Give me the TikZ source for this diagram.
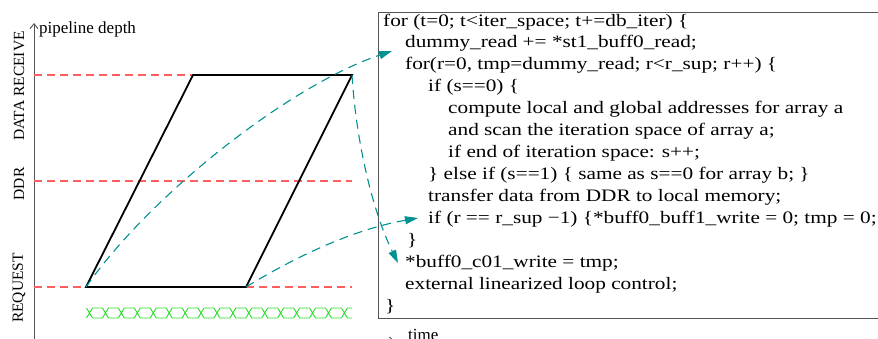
\documentclass[tikz,border=0pt]{standalone}
\usepackage{fontspec}
\setmainfont{Liberation Serif}
\newfontfamily\codefont[FakeStretch=1.215]{Liberation Serif}
\usetikzlibrary{arrows.meta}
\definecolor{guidered}{RGB}{255,95,95}
\definecolor{flowteal}{RGB}{0,145,145}
\definecolor{busgreen}{RGB}{40,220,40}
\definecolor{boxgray}{RGB}{85,85,85}
\begin{document}
\begin{tikzpicture}[x=1pt,y=-1pt,
  guide/.style={draw=guidered, line width=1.1pt, dash pattern=on 8pt off 5pt},
  para/.style={draw=black, line width=1.8pt, line join=miter},
  flow/.style={draw=flowteal, line width=1.1pt, dash pattern=on 9pt off 6pt, -{Triangle[length=13pt,width=8pt]}},
  bus/.style={draw=busgreen, line width=0.9pt},
  axisline/.style={draw=boxgray, line width=0.9pt, -{Straight Barb[length=5pt,width=8pt]}},
  codebox/.style={draw=boxgray, line width=1pt},
  codeline/.style={anchor=base west, inner sep=0pt, font=\codefont\fontsize{17.5}{21}\selectfont},
  axislabel/.style={inner sep=0pt, font=\fontsize{15.5}{18}\selectfont},
  axisname/.style={inner sep=0pt, anchor=base west, font=\fontsize{17}{19}\selectfont},
]
\useasboundingbox (0,0) rectangle (878,338);
\clip (0,0) rectangle (878,338);

% axes
\coordinate (vbot) at (34,350);
\coordinate (vtop) at (34,23);
\coordinate (hleft) at (34,341);
\coordinate (hright) at (395,341);
\draw[axisline] (vbot) -- (vtop);
\draw[axisline] (hleft) -- (hright);
\node[axisname] (pdepth) at (39,33) {pipeline depth};
\node[axisname] (time) at (408,340) {time};

% stage labels
\node[axislabel, rotate=90] (lrecv) at (19,86) {DATA RECEIVE};
\node[axislabel, rotate=90] (lddr) at (19,184) {DDR};
\node[axislabel, rotate=90] (lreq) at (19,288) {REQUEST};

% parallelogram corners
\coordinate (pA) at (86,287);
\coordinate (pB) at (246,287);
\coordinate (pC) at (352,75);
\coordinate (pD) at (193,75);

% guides
\coordinate (g1) at (34,75);
\coordinate (g2a) at (34,181);
\coordinate (g2b) at (352,181);
\coordinate (g3) at (34,287);
\coordinate (g3b) at (352,287);
\draw[guide] (g1) -- (pD);
\draw[guide] (g2a) -- (g2b);
\draw[guide] (g3) -- (pA);
\draw[guide] (pB) -- (g3b);

\draw[para] (pA) -- (pB) -- (pC) -- (pD) -- cycle;

% bus signal
\begin{scope}
\clip (86,300) rectangle (352,325);
\foreach \k in {0,...,17} {
  \pgfmathsetmacro\cc{89.5+15.93*\k}
  \draw[bus] (\cc-3,308) -- (\cc+3,318) (\cc-3,318) -- (\cc+3,308)
             (\cc+3,308) -- (\cc+12.93,308) (\cc+3,318) -- (\cc+12.93,318);
}
\end{scope}

% code box
\coordinate (boxtl) at (378,12);
\coordinate (boxbr) at (900,318);
\draw[codebox] (boxtl) rectangle (boxbr);

\node[codeline] (l1) at (383,26) {for (t=0; t<iter\_space; t+=db\_iter) \{};
\node[codeline] (l2) at (405,47.9) {dummy\_read += *st1\_buff0\_read;};
\node[codeline] (l3) at (405,69.8) {for(r=0, tmp=dummy\_read; r<r\_sup; r++) \{};
\node[codeline] (l4) at (428,91.8) {if (s==0) \{};
\node[codeline] (l5) at (448,113.7) {compute local and global addresses for array a};
\node[codeline] (l6) at (448,135.6) {and scan the iteration space of array a;};
\node[codeline] (l7) at (448,157.5) {if end of iteration space: s++;};
\node[codeline] (l8) at (428,179.4) {\} else if (s==1) \{ same as s==0 for array b; \}};
\node[codeline] (l9) at (428,201.4) {transfer data from DDR to local memory;};
\node[codeline] (l10) at (428,223.3) {if (r == r\_sup −1) \{*buff0\_buff1\_write = 0; tmp = 0;};
\node[codeline] (l11) at (407,245.2) {\}};
\node[codeline] (l12) at (405,267.1) {*buff0\_c01\_write = tmp;};
\node[codeline] (l13) at (405,289) {external linearized loop control;};
\node[codeline] (l14) at (385,311) {\}};

% flow arrows
\coordinate (t1) at (392,51);
\coordinate (t2) at (398,263);
\coordinate (t3) at (418,218);
\draw[flow] (pA) .. controls (150,195) and (290,85) .. (t1);
\draw[flow] (pC) .. controls (356,140) and (372,210) .. (t2);
\draw[flow] (pB) .. controls (290,260) and (350,230) .. (t3);
\end{tikzpicture}
\end{document}
